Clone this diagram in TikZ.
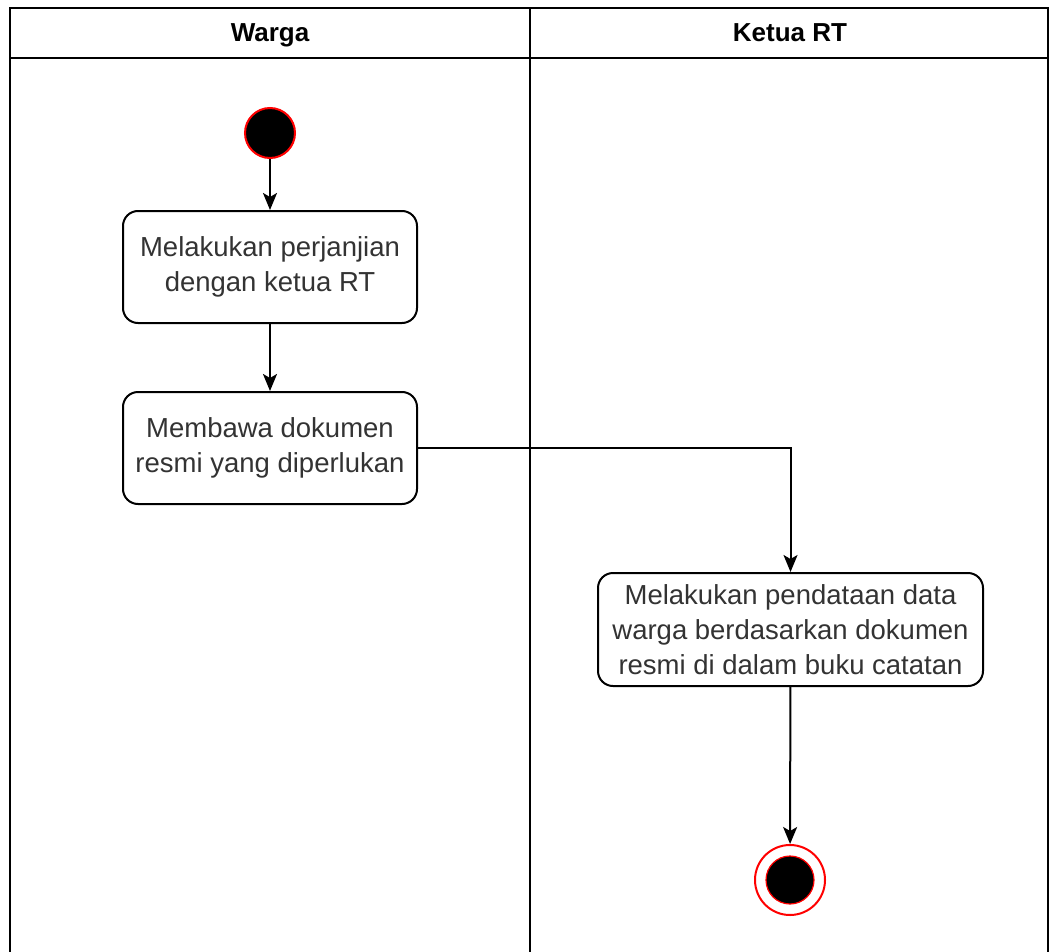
\documentclass[tikz,border=0pt]{standalone}
\usepackage{fontspec}
\setmainfont{Liberation Sans}
\usetikzlibrary{arrows.meta}
\definecolor{txt}{HTML}{333333}
\tikzset{
  act/.style={draw=black, line width=2pt, rounded corners=15pt, fill=white, align=center,
    text=txt, font=\fontsize{27.5}{35}\selectfont, inner sep=0pt},
  lane/.style={draw=black, line width=2.2pt},
  hdr/.style={font=\fontsize{26}{30}\selectfont\bfseries, text=black, anchor=base, inner sep=0pt},
  flow/.style={draw=black, line width=2pt, -{Stealth[length=17pt,width=14pt,inset=4pt]}},
  startnode/.style={circle, fill=black, draw=red, line width=2pt, minimum size=50pt, inner sep=0pt},
  endouter/.style={circle, fill=white, draw=red, line width=2pt, minimum size=70pt, inner sep=0pt},
  endinner/.style={circle, fill=black, draw=red, line width=1.2pt, minimum size=48pt, inner sep=0pt}
}
\begin{document}
\begin{tikzpicture}[x=1pt,y=-1pt]
\useasboundingbox (0,0) rectangle (1051,952);
\fill[white] (0,0) rectangle (1051,952);
% lanes
\draw[lane] (10,952) -- (10,8) -- (1048,8) -- (1048,952);
\draw[lane] (10,58) -- (1048,58);
\draw[lane] (530,8) -- (530,952);
\node[hdr] (h1) at (270,42) {Warga};
\node[hdr] (h2) at (790,42) {Ketua RT};
% nodes
\node[startnode] (start) at (270,133) {};
\node[act, minimum width=294pt, minimum height=112pt] (a1) at (270,267) {Melakukan perjanjian\\dengan ketua RT};
\node[act, minimum width=294pt, minimum height=112pt] (a2) at (270,448) {Membawa dokumen\\resmi yang diperlukan};
\node[act, minimum width=385pt, minimum height=113pt] (a3) at (790.5,629.5) {Melakukan pendataan data\\warga berdasarkan dokumen\\resmi di dalam buku catatan};
\node[endouter] (endo) at (790,880) {};
\node[endinner] (endi) at (790,880) {};
% flows
\draw[flow] (start) -- (a1);
\draw[flow] (a1) -- (a2);
\draw[flow] (a2.east) -| (a3.north);
\draw[flow] (a3) -- (endo);
\end{tikzpicture}
\end{document}
